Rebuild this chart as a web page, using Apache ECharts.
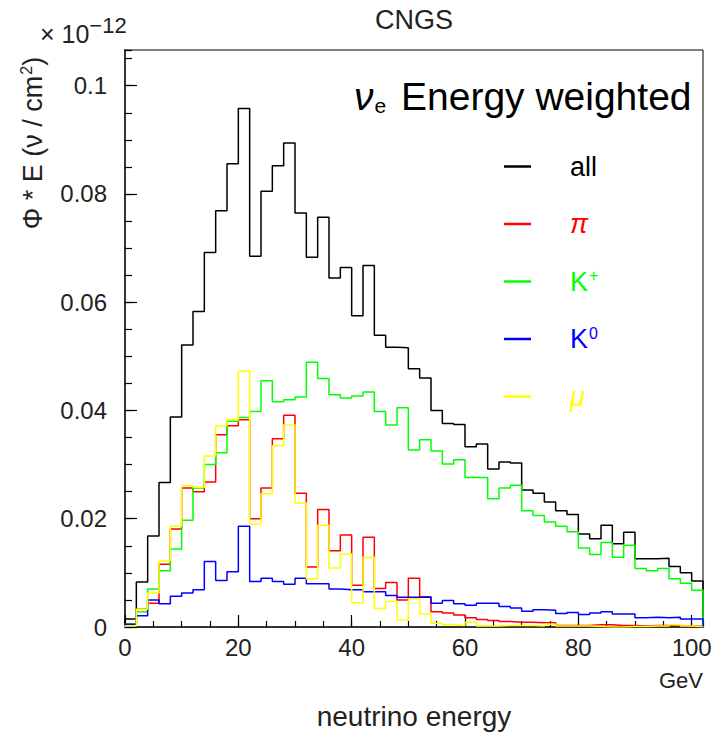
<!DOCTYPE html>
<html>
<head>
<meta charset="utf-8">
<title>CNGS nu_e energy weighted</title>
<script src="https://cdn.jsdelivr.net/npm/echarts@6/dist/echarts.min.js"></script>
<style>
  html, body { margin: 0; padding: 0; background: #fff; }
  #main { width: 720px; height: 739px; }
</style>
</head>
<body>
<div id="main"></div>
<script>
// bins of 2 GeV from 0 to 102 GeV, values in units of 1e-12
const binWidth = 2
const xMax = 102
const yMax = 0.1066

const allE = [0.0015, 0.0083, 0.0168, 0.0267, 0.0388, 0.0521, 0.0583, 0.0692, 0.0769, 0.0856,
  0.0958, 0.0685, 0.0805, 0.0852, 0.0894, 0.0765, 0.0683, 0.0757, 0.0645, 0.0664,
  0.0575, 0.0668, 0.0539, 0.0517, 0.0516, 0.0477, 0.0460, 0.0400, 0.0376, 0.0374,
  0.0333, 0.0338, 0.0292, 0.0305, 0.0303, 0.0253, 0.0247, 0.0231, 0.0215, 0.0208,
  0.0172, 0.0163, 0.0188, 0.0154, 0.0175, 0.0126, 0.0126, 0.0127, 0.0112, 0.0100, 0.0085]

const piE = [0.0005, 0.0033, 0.0044, 0.0116, 0.0181, 0.0257, 0.0250, 0.0268, 0.0355, 0.0372,
  0.0383, 0.0200, 0.0257, 0.0348, 0.0391, 0.0247, 0.0111, 0.0217, 0.0141, 0.0170,
  0.0077, 0.0166, 0.0071, 0.0082, 0.0050, 0.0090, 0.0056, 0.0028, 0.0026, 0.0022,
  0.0017, 0.0014, 0.0012, 0.0010, 0.0009, 0.0009, 0.0008, 0.0008, 0.0003, 0.0003,
  0.0003, 0.0004, 0.0004, 0.0003, 0.0003, 0.0002, 0.0003, 0.0003, 0.0004, 0.0002, 0.0002]

const kPlusE = [0.0005, 0.0028, 0.0070, 0.0104, 0.0144, 0.0197, 0.0257, 0.0300, 0.0322, 0.0380,
  0.0387, 0.0398, 0.0455, 0.0416, 0.0420, 0.0425, 0.0489, 0.0459, 0.0429, 0.0423,
  0.0427, 0.0434, 0.0398, 0.0373, 0.0405, 0.0327, 0.0346, 0.0325, 0.0301, 0.0309,
  0.0276, 0.0276, 0.0237, 0.0257, 0.0262, 0.0215, 0.0206, 0.0194, 0.0186, 0.0176,
  0.0146, 0.0134, 0.0156, 0.0129, 0.0151, 0.0108, 0.0104, 0.0108, 0.0089, 0.0081, 0.0068]

const kZeroE = [0.0005, 0.0021, 0.0050, 0.0043, 0.0057, 0.0063, 0.0069, 0.0121, 0.0086, 0.0102,
  0.0186, 0.0084, 0.0090, 0.0084, 0.0079, 0.0090, 0.0080, 0.0080, 0.0070, 0.0069,
  0.0069, 0.0065, 0.0065, 0.0058, 0.0055, 0.0055, 0.0055, 0.0044, 0.0049, 0.0043,
  0.0040, 0.0044, 0.0044, 0.0038, 0.0035, 0.0029, 0.0032, 0.0031, 0.0025, 0.0027,
  0.0023, 0.0026, 0.0028, 0.0024, 0.0024, 0.0017, 0.0018, 0.0017, 0.0018, 0.0015, 0.0015]

const muE = [0.0002, 0.0033, 0.0063, 0.0122, 0.0186, 0.0261, 0.0258, 0.0316, 0.0372, 0.0383,
  0.0473, 0.0190, 0.0246, 0.0335, 0.0373, 0.0229, 0.0089, 0.0188, 0.0109, 0.0135,
  0.0045, 0.0129, 0.0034, 0.0047, 0.0013, 0.0052, 0.0024, 0.0007, 0.0004, 0.0003,
  0.0009, 0.0002, 0.0002, 0.0003, 0.0003, 0.0003, 0.0002, 0.0005, 0.0002, 0.0002,
  0.0002, 0.0001, 0.0000, 0.0000, 0.0001, 0.0001, 0.0002, 0.0002, 0.0004, 0.0002, 0.0001]

const xTicks = [0, 20, 40, 60, 80, 100]
const yTicks = [0, 0.02, 0.04, 0.06, 0.08, 0.1]

const seriesNames = ['all', 'π', 'K+', 'K0', 'μ']
const seriesLabels = ['{b|all}', '{g|π}', '{b|K}{s|+}', '{b|K}{s|0}', '{g|μ}']
const seriesColors = ['#000000', '#ff0000', '#00ff00', '#0000ff', '#ffff00']

const FONT = 'Liberation Sans'

// histogram outline: left edge of each bin, closed down to zero at both ends
function toSteps(vals) {
  const pts = [[0, 0]]
  vals.forEach((v, i) => pts.push([i * binWidth, v]))
  pts.push([vals.length * binWidth, vals[vals.length - 1]])
  pts.push([vals.length * binWidth, 0])
  return pts
}

function histSeries(i, vals) {
  return {
    name: seriesNames[i],
    type: 'line',
    step: 'end',
    data: toSteps(vals),
    showSymbol: false,
    symbol: 'none',
    lineStyle: { color: seriesColors[i], width: 1.5 },
    itemStyle: { color: seriesColors[i] },
    animation: false
  }
}

// legend drawn by hand (ROOT style: short line, label far to the right)
const legendTop = 166.5
const legendStep = 57.5
const legendRich = {
  b: { fontSize: 27, fontFamily: FONT },
  g: { fontSize: 27, fontFamily: FONT, fontStyle: 'italic' },
  s: { fontSize: 16, fontFamily: FONT, verticalAlign: 'bottom', padding: [0, 0, 12, 1] }
}
const legendGraphics = []
seriesNames.forEach((name, i) => {
  const y = legendTop + i * legendStep
  legendGraphics.push({
    type: 'line',
    shape: { x1: 504, y1: y, x2: 531, y2: y },
    style: { stroke: seriesColors[i], lineWidth: 2.5 }
  })
  legendGraphics.push({
    type: 'text',
    x: 570,
    y: y,
    style: {
      text: seriesLabels[i],
      fill: seriesColors[i],
      fontFamily: FONT,
      fontSize: 27,
      verticalAlign: 'middle',
      rich: legendRich
    }
  })
})

const chart = echarts.init(document.getElementById('main'), null, { renderer: 'svg' })

const option = {
  backgroundColor: '#fff',
  grid: {
    left: 125, right: 17, top: 50, bottom: 112,
    show: true, borderColor: '#000', borderWidth: 1, backgroundColor: 'transparent'
  },
  xAxis: [
    {
      type: 'value',
      min: 0, max: xMax, interval: 20,
      axisLine: { show: true, onZero: false, lineStyle: { color: '#333', width: 2 } },
      axisTick: { show: true, inside: true, length: 12, lineStyle: { color: '#000', width: 1.2 } },
      axisLabel: {
        show: true, margin: 8, fontFamily: FONT, fontSize: 24, color: '#222',
        showMaxLabel: false,
        formatter: v => (xTicks.indexOf(v) >= 0 ? String(v) : '')
      },
      splitLine: { show: false }
    },
    {
      type: 'value',
      min: 0, max: xMax, interval: 5,
      position: 'bottom',
      axisLine: { show: false },
      axisTick: { show: true, inside: true, length: 6, lineStyle: { color: '#000', width: 1.2 } },
      axisLabel: { show: false },
      splitLine: { show: false }
    }
  ],
  yAxis: [
    {
      type: 'value',
      min: 0, max: yMax, interval: 0.02,
      axisLine: { show: true, onZero: false, lineStyle: { color: '#333', width: 2 } },
      axisTick: { show: true, inside: true, length: 12, lineStyle: { color: '#000', width: 1.2 } },
      axisLabel: {
        show: true, margin: 18, fontFamily: FONT, fontSize: 24, color: '#222',
        showMaxLabel: false,
        formatter: function (v) {
          const r = +v.toFixed(3)
          return yTicks.indexOf(r) >= 0 ? String(r) : ''
        }
      },
      splitLine: { show: false }
    },
    {
      type: 'value',
      min: 0, max: yMax, interval: 0.005,
      position: 'left',
      axisLine: { show: false },
      axisTick: { show: true, inside: true, length: 7, lineStyle: { color: '#000', width: 1.2 } },
      axisLabel: { show: false },
      splitLine: { show: false }
    }
  ],
  graphic: [
    {
      type: 'text',
      x: 414,
      y: 20,
      style: { text: 'CNGS', fontFamily: FONT, fontSize: 27, fill: '#222', align: 'center', verticalAlign: 'middle' }
    },
    {
      type: 'text',
      left: 354,
      top: 77,
      style: {
        text: '{nu|ν}{e|e} Energy weighted',
        fontFamily: FONT,
        fontSize: 39,
        fill: '#000',
        rich: {
          nu: { fontSize: 39, fontFamily: FONT, fontStyle: 'italic' },
          e: { fontSize: 21, fontFamily: FONT, verticalAlign: 'bottom', padding: [10, 4, 0, 1] }
        }
      }
    },
    {
      type: 'text',
      x: 703,
      y: 680,
      style: { text: 'GeV', fontFamily: FONT, fontSize: 22, fill: '#222', align: 'right', verticalAlign: 'middle' }
    },
    {
      type: 'text',
      x: 414,
      y: 716,
      style: { text: 'neutrino energy', fontFamily: FONT, fontSize: 28, fill: '#222', align: 'center', verticalAlign: 'middle' }
    },
    {
      type: 'text',
      x: 40,
      y: 14,
      style: {
        text: '× 10{s|−12}',
        fontFamily: FONT,
        fontSize: 25,
        fill: '#222',
        rich: { s: { fontSize: 22, fontFamily: FONT, verticalAlign: 'bottom', padding: [0, 0, 18, 0] } }
      }
    },
    {
      type: 'text',
      x: 33,
      y: 143,
      rotation: Math.PI / 2,
      style: {
        text: 'Φ * E (ν / cm{s|2})',
        fontFamily: FONT,
        fontSize: 27,
        fill: '#222',
        align: 'center',
        verticalAlign: 'middle',
        rich: { s: { fontSize: 16, fontFamily: FONT, verticalAlign: 'bottom', padding: [0, 0, 14, 1] } }
      }
    }
  ].concat(legendGraphics),
  series: [
    histSeries(0, allE),
    histSeries(1, piE),
    histSeries(2, kPlusE),
    histSeries(3, kZeroE),
    histSeries(4, muE)
  ]
}

chart.setOption(option)
</script>
</body>
</html>
